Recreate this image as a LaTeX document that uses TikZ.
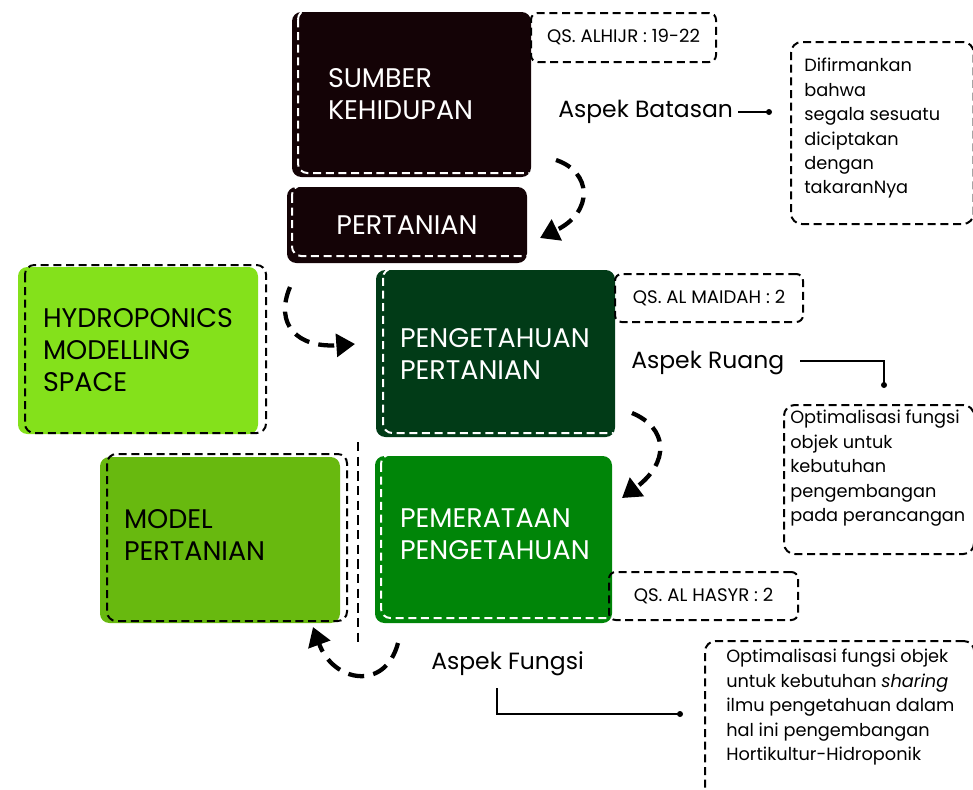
\documentclass[tikz,border=0pt]{standalone}
\usepackage{fontspec}
\setmainfont{Poppins}
\usetikzlibrary{arrows.meta}
\definecolor{cbrown}{HTML}{140306}
\definecolor{cdkgreen}{HTML}{013B17}
\definecolor{cgreen}{HTML}{008508}
\definecolor{cmodel}{HTML}{68B90F}
\definecolor{chydro}{HTML}{84E11B}
\tikzset{
  bigbox/.style={rounded corners=7pt, inner ysep=0pt, align=left, anchor=center,
    font=\fontsize{20.2}{24}\selectfont},
  qsbox/.style={draw=black, line width=1.5pt, dash pattern=on 6pt off 3.5pt,
    rounded corners=5pt, inner sep=0pt, font=\fontsize{13.6}{15}\selectfont},
  descbox/.style={draw=black, line width=1.5pt, dash pattern=on 6pt off 3.5pt,
    rounded corners=8pt, inner sep=0pt, anchor=north west},
  desctext/.style={anchor=north west, inner sep=0pt, align=left,
    font=\fontsize{13.3}{18.3}\selectfont},
  aspek/.style={inner sep=0pt, anchor=west, font=\fontsize{17.6}{22}\selectfont},
  inset/.style={line width=1.5pt, dash pattern=on 6pt off 3.5pt, rounded corners=7pt},
  flow/.style={line width=3.2pt, dash pattern=on 12pt off 7pt,
    -{Triangle[length=14pt,width=17pt]}},
  lead/.style={line width=0.8pt},
  leaddot/.style={circle, fill=black, inner sep=0pt, minimum size=4.5pt}
}
\begin{document}
\begin{tikzpicture}[x=0.75pt,y=-0.75pt]
\useasboundingbox (0,0) rectangle (973,789);

% ---------- main boxes ----------
\node[bigbox, fill=cbrown, text=white, minimum width=179.25pt, minimum height=123.75pt,
  inner xsep=27pt, text width=125.25pt] (sumber) at (411.5,94.5) {SUMBER\\KEHIDUPAN};
\node[bigbox, fill=cbrown, text=white, minimum width=180pt, minimum height=57pt,
  inner xsep=0pt, text width=180pt, align=center] (pertanian) at (407,225) {PERTANIAN};
\node[bigbox, fill=chydro, text=black, minimum width=180pt, minimum height=125.25pt,
  inner xsep=18.75pt, text width=142.5pt] (hydro) at (138,350.5) {HYDROPONICS\\MODELLING\\SPACE};
\node[bigbox, fill=cdkgreen, text=white, minimum width=179.25pt, minimum height=125.25pt,
  inner xsep=18pt, text width=143.25pt] (pengetahuan) at (495.5,353.5) {PENGETAHUAN\\PERTANIAN};
\node[bigbox, fill=cgreen, text=white, minimum width=177.75pt, minimum height=125.25pt,
  inner xsep=18.75pt, text width=140.25pt] (pemerataan) at (493.5,539.5) {\parbox{140.25pt}{PEMERATAAN\\PENGETAHUAN\par\vspace*{8pt}}};
\node[bigbox, fill=cmodel, text=black, minimum width=180pt, minimum height=124.5pt,
  inner xsep=18pt, text width=144pt] (model) at (220,540) {\parbox{144pt}{MODEL\\PERTANIAN\par\vspace*{8pt}}};

% ---------- inset dashed outlines ----------
\begin{scope}
  \clip[rounded corners=7pt] (292,12) rectangle (531,177);
  \draw[inset, white] (298,10) rectangle (540,173);
\end{scope}
\begin{scope}
  \clip[rounded corners=7pt] (287,187) rectangle (527,263);
  \draw[inset, white] (292,185.5) rectangle (535,256);
\end{scope}
\begin{scope}
  \clip[rounded corners=7pt] (376,270) rectangle (615,437);
  \draw[inset, white] (383,268.5) rectangle (625,433);
\end{scope}
\begin{scope}
  \clip[rounded corners=7pt] (375,456) rectangle (612,623);
  \draw[inset, white] (381,454.5) rectangle (620,618);
\end{scope}
\draw[inset, black] (25,265) rectangle (266,433);
\draw[inset, black] (107,454) rectangle (347,621);

% ---------- QS boxes ----------
\node[qsbox, minimum width=138.75pt, minimum height=36.75pt] (qs1) at (623.5,37.5) {QS. ALHIJR : 19-22};
\node[qsbox, minimum width=141pt, minimum height=36pt] (qs2) at (709,298) {QS. AL MAIDAH : 2};
\node[qsbox, minimum width=141.75pt, minimum height=36pt] (qs3) at (703.5,596) {QS. AL HASYR : 2};

% ---------- description boxes ----------
\node[descbox, minimum width=137pt, minimum height=136.5pt] (desc1) at (790,41) {};
\node[desctext] (desc1t) at (804,58) {Difirmankan\\bahwa\\segala sesuatu\\diciptakan\\dengan\\takaranNya};
\node[descbox, minimum width=142.5pt, minimum height=111.75pt] (desc2) at (783,404) {};
\node[desctext] (desc2t) at (790,410) {Optimalisasi fungsi\\objek untuk\\kebutuhan\\pengembangan\\pada perancangan};
\node[descbox, minimum width=202pt, minimum height=130pt] (desc3) at (704,640) {};
\node[desctext] (desc3t) at (726,649) {Optimalisasi fungsi objek\\untuk kebutuhan \textit{sharing}\\ilmu pengetahuan dalam\\hal ini pengembangan\\Hortikultur-Hidroponik};

% ---------- aspect labels and leaders ----------
\node[aspek] (batasan) at (558,111.5) {Aspek Batasan};
\node[aspek] (ruang) at (631,362.5) {Aspek Ruang};
\node[aspek] (fungsi) at (431,664) {Aspek Fungsi};
\node[leaddot] (dot1) at (769,112) {};
\node[leaddot] (dot2) at (884,385) {};
\node[leaddot] (dot3) at (680,714) {};
\coordinate (l1) at (738,112);
\coordinate (l2) at (800,361);
\coordinate (l3) at (497,688);
\draw[lead] (l1) -- (dot1.center);
\draw[lead] (l2) -| (dot2.center);
\draw[lead] (l3) |- (dot3.center);

% ---------- flow arrows ----------
\coordinate (a1s) at (556,160);
\coordinate (a1e) at (540,238);
\draw[flow] (a1s) .. controls (592,172) and (594,212) .. (a1e);
\coordinate (a2s) at (290,287);
\coordinate (a2e) at (355,344);
\draw[flow] (a2s) .. controls (274,325) and (298,348) .. (a2e);
\coordinate (a3s) at (632,413);
\coordinate (a3e) at (622,498);
\draw[flow] (a3s) .. controls (668,428) and (670,462) .. (a3e);
\coordinate (a4s) at (398,643);
\coordinate (a4e) at (313,627);
\draw[flow] (a4s) .. controls (385,692) and (333,682) .. (a4e);

% ---------- divider ----------
\coordinate (v1) at (358,442);
\coordinate (v2) at (358,643);
\draw[line width=1.5pt, dash pattern=on 7pt off 4pt] (v1) -- (v2);
\end{tikzpicture}
\end{document}
